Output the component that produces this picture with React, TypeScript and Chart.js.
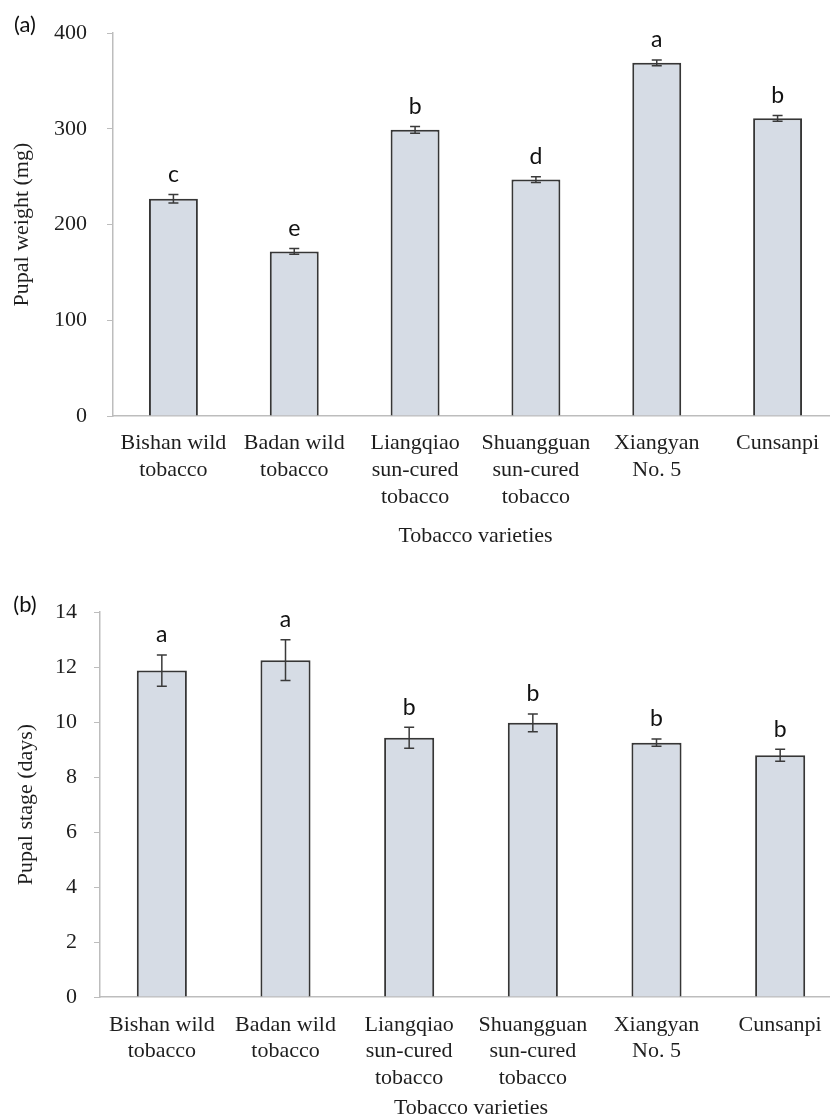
import React, { useEffect, useRef } from "react";
import { Chart, registerables } from "chart.js";

Chart.register(...registerables);

// ---------- data ----------
const varieties: string[][] = [
  ["Bishan wild", "tobacco"],
  ["Badan wild", "tobacco"],
  ["Liangqiao", "sun-cured", "tobacco"],
  ["Shuangguan", "sun-cured", "tobacco"],
  ["Xiangyan", "No. 5"],
  ["Cunsanpi"],
];

const pupalWeight = [227, 172, 299, 247, 369, 311];
const pupalWeightErr = [4.5, 3, 3.5, 3, 3, 3];
const pupalWeightLetters = ["c", "e", "b", "d", "a", "b"];
const weightTicks = [0, 100, 200, 300, 400];

const pupalStage = [11.87, 12.25, 9.43, 9.97, 9.25, 8.79];
const pupalStageErr = [0.57, 0.74, 0.38, 0.32, 0.13, 0.22];
const pupalStageLetters = ["a", "a", "b", "b", "b", "b"];
const stageTicks = [0, 2, 4, 6, 8, 10, 12, 14];

const xTitle = "Tobacco varieties";
const weightTitle = "Pupal weight (mg)";
const stageTitle = "Pupal stage (days)";

// ---------- styles ----------
const SERIF = '"Liberation Serif", "Times New Roman", serif';
const SANS = 'Lato, "Open Sans", sans-serif';
const TEXT = "#1e1e1e";
const AXIS = "#bdbdbd";
const BAR_FILL = "#d6dce5";
const BAR_EDGE = "#363636";

function annotPlugin(errs: number[], letters: string[], panel: string, panelX: number, panelY: number) {
  return {
    id: "annot",
    afterDatasetsDraw(chart: any) {
      const ctx = chart.ctx;
      const meta = chart.getDatasetMeta(0);
      const yS = chart.scales.y;
      const vals = chart.data.datasets[0].data as number[];
      ctx.save();
      meta.data.forEach((bar: any, i: number) => {
        const x = bar.x;
        const v = vals[i];
        const top = yS.getPixelForValue(v + errs[i]);
        const bot = yS.getPixelForValue(v - errs[i]);
        ctx.strokeStyle = "#3a3a3a";
        ctx.lineWidth = 1.5;
        ctx.beginPath();
        ctx.moveTo(x, top);
        ctx.lineTo(x, bot);
        ctx.moveTo(x - 5, top);
        ctx.lineTo(x + 5, top);
        ctx.moveTo(x - 5, bot);
        ctx.lineTo(x + 5, bot);
        ctx.stroke();
        ctx.fillStyle = "#111";
        ctx.font = `23px ${SANS}`;
        ctx.textAlign = "center";
        ctx.textBaseline = "middle";
        ctx.fillText(letters[i], x, top - 20);
      });
      ctx.fillStyle = "#111";
      ctx.font = `22px ${SANS}`;
      ctx.textAlign = "center";
      ctx.textBaseline = "middle";
      ctx.fillText(panel, panelX, panelY);
      ctx.restore();
    },
  };
}

interface PanelProps {
  width: number;
  height: number;
  values: number[];
  errs: number[];
  letters: string[];
  ticks: number[];
  yTitle: string;
  panel: string;
  panelY: number;
  area: { left: number; top: number; right: number; bottom: number };
  yLabelPad: number;
  yTitlePad: number;
  xLineHeight: number;
  xFirstLine: number;
  xTitleCenter: number;
}

function Panel(p: PanelProps) {
  const ref = useRef<HTMLCanvasElement | null>(null);
  useEffect(() => {
    if (!ref.current) return;
    const { left, top, right, bottom } = p.area;
    const xHeight = p.height - bottom;
    const tickFont = { family: SERIF, size: 22 };
    const chart = new Chart(ref.current, {
      type: "bar",
      data: {
        labels: varieties,
        datasets: [
          {
            data: p.values,
            backgroundColor: BAR_FILL,
            borderColor: BAR_EDGE,
            borderWidth: 2,
            categoryPercentage: 1,
            barPercentage: 0.405,
          },
        ],
      },
      options: {
        animation: false,
        responsive: false,
        devicePixelRatio: 1,
        layout: { padding: { left: 0, top: top, right: p.width - right, bottom: 0 } },
        plugins: { legend: { display: false }, tooltip: { enabled: false }, title: { display: false } },
        scales: {
          x: {
            grid: { display: false, drawTicks: false, tickLength: 0 },
            border: { display: true, color: AXIS, width: 1.5 },
            ticks: {
              color: TEXT,
              font: { family: SERIF, size: 22, lineHeight: `${p.xLineHeight}px` },
              padding: p.xFirstLine - p.xLineHeight / 2,
              maxRotation: 0,
              autoSkip: false,
            },
            title: {
              display: true,
              text: xTitle,
              color: TEXT,
              font: { family: SERIF, size: 22 },
              padding: { top: 0, bottom: xHeight - p.xTitleCenter - 13.2 },
            },
            afterFit: (s: any) => {
              s.height = xHeight;
            },
          },
          y: {
            min: p.ticks[0],
            max: p.ticks[p.ticks.length - 1],
            afterBuildTicks: (s: any) => {
              s.ticks = p.ticks.map((v) => ({ value: v }));
            },
            grid: { drawOnChartArea: false, drawTicks: true, tickLength: 6, tickColor: AXIS, color: AXIS },
            border: { display: true, color: AXIS, width: 1.5 },
            ticks: { color: TEXT, font: tickFont, padding: p.yLabelPad },
            title: {
              display: true,
              text: p.yTitle,
              color: TEXT,
              font: { family: SERIF, size: 22 },
              padding: { top: p.yTitlePad, bottom: 0 },
            },
            afterFit: (s: any) => {
              s.width = left;
            },
          },
        },
      },
      plugins: [annotPlugin(p.errs, p.letters, p.panel, 25, p.panelY)],
    } as any);
    return () => chart.destroy();
  }, []);
  return <canvas ref={ref} width={p.width} height={p.height} style={{ display: "block", width: p.width, height: p.height }} />;
}

export default function App() {
  return (
    <div
      style={{
        position: "absolute",
        left: 0,
        top: 0,
        width: 830,
        height: 1119,
        overflow: "hidden",
        background: "#fff",
      }}
    >
      <div style={{ position: "absolute", left: 0, top: 0 }}>
        <Panel
          width={850}
          height={560}
          values={pupalWeight}
          errs={pupalWeightErr}
          letters={pupalWeightLetters}
          ticks={weightTicks}
          yTitle={weightTitle}
          panel="(a)"
          panelY={25}
          area={{ left: 113, top: 32, right: 838, bottom: 416 }}
          yLabelPad={20}
          yTitlePad={9}
          xLineHeight={27}
          xFirstLine={27}
          xTitleCenter={120}
        />
      </div>
      <div style={{ position: "absolute", left: 0, top: 560 }}>
        <Panel
          width={850}
          height={580}
          values={pupalStage}
          errs={pupalStageErr}
          letters={pupalStageLetters}
          ticks={stageTicks}
          yTitle={stageTitle}
          panel="(b)"
          panelY={45}
          area={{ left: 100, top: 52, right: 842, bottom: 437 }}
          yLabelPad={17}
          yTitlePad={13}
          xLineHeight={26.5}
          xFirstLine={28}
          xTitleCenter={111}
        />
      </div>
    </div>
  );
}
